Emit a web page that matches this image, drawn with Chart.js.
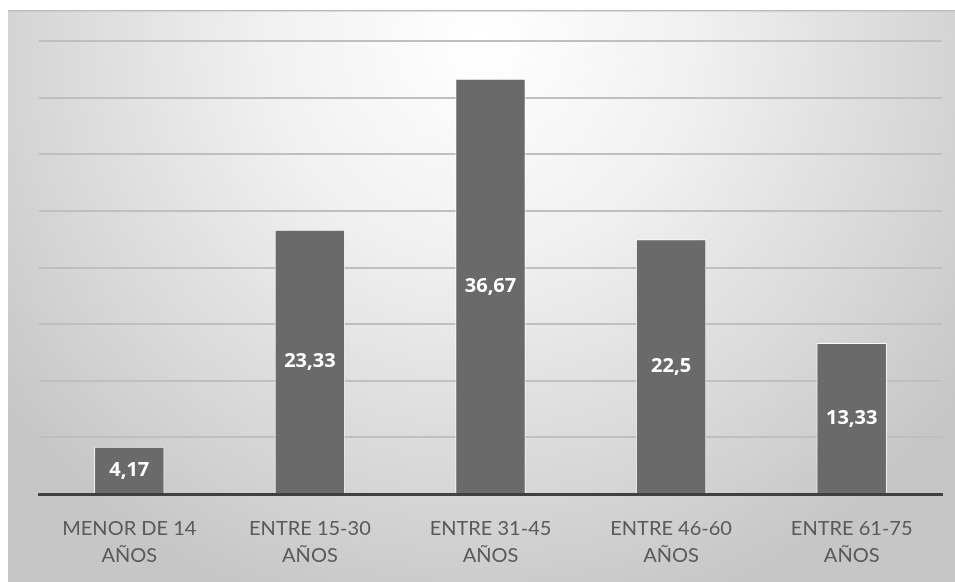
<!DOCTYPE html>
<html>
<head>
<meta charset="utf-8">
<script src="https://cdn.jsdelivr.net/npm/chart.js@4"></script>
<style>
  html, body { margin: 0; padding: 0; background: #ffffff; }
  #wrap { width: 955px; height: 582px; position: relative; }
</style>
</head>
<body>
<div id="wrap"><canvas id="c" width="955" height="582"></canvas></div>
<script>
const categories = [
  ['MENOR DE 14', 'AÑOS'],
  ['ENTRE 15-30', 'AÑOS'],
  ['ENTRE 31-45', 'AÑOS'],
  ['ENTRE 46-60', 'AÑOS'],
  ['ENTRE 61-75', 'AÑOS']
];
const values = [4.17, 23.33, 36.67, 22.5, 13.33];
const valueLabels = ['4,17', '23,33', '36,67', '22,5', '13,33'];
const yMin = 0, yMax = 40, yStep = 5;

const bgPlugin = {
  id: 'bg',
  beforeDraw(chart) {
    const ctx = chart.ctx;
    ctx.save();
    ctx.fillStyle = '#ffffff';
    ctx.fillRect(0, 0, chart.width, chart.height);
    const g = ctx.createRadialGradient(480, 40, 0, 480, 40, 600);
    g.addColorStop(0, '#ffffff');
    g.addColorStop(0.35, '#f1f1f1');
    g.addColorStop(1, '#c6c6c6');
    ctx.fillStyle = g;
    ctx.fillRect(8, 10, chart.width - 8, chart.height - 10);
    ctx.fillStyle = '#bdbdbd';
    ctx.fillRect(8, 10, chart.width - 8, 1.5);
    ctx.restore();
  }
};

const labelPlugin = {
  id: 'valLabels',
  afterDatasetsDraw(chart) {
    const ctx = chart.ctx;
    const meta = chart.getDatasetMeta(0);
    ctx.save();
    ctx.fillStyle = '#ffffff';
    ctx.font = 'bold 20px "Open Sans", sans-serif';
    ctx.textAlign = 'center';
    ctx.textBaseline = 'middle';
    meta.data.forEach((bar, i) => {
      const y = (bar.y + bar.base) / 2;
      ctx.fillText(valueLabels[i], bar.x, y);
    });
    ctx.restore();
  }
};

new Chart(document.getElementById('c'), {
  type: 'bar',
  data: {
    labels: categories,
    datasets: [{
      data: values,
      backgroundColor: '#6a6a6a',
      borderColor: 'rgba(255,255,255,0.85)',
      borderWidth: 1,
      categoryPercentage: 1,
      barPercentage: 0.39
    }]
  },
  options: {
    responsive: false,
    animation: false,
    layout: { padding: { left: 39, right: 13, top: 41, bottom: 0 } },
    plugins: { legend: { display: false }, tooltip: { enabled: false } },
    scales: {
      x: {
        grid: { display: false },
        border: { display: true, color: '#404040', width: 3 },
        ticks: {
          color: '#595959',
          font: { family: 'Lato, "Open Sans", sans-serif', size: 20, lineHeight: 1.35 },
          padding: 13,
          maxRotation: 0,
          autoSkip: false
        }
      },
      y: {
        min: yMin, max: yMax,
        ticks: { display: false, stepSize: yStep },
        border: { display: false },
        grid: {
          color: (c) => c.tick && c.tick.value === 0 ? 'rgba(0,0,0,0)' : '#bfbfbf',
          lineWidth: 2,
          drawTicks: false
        }
      }
    }
  },
  plugins: [bgPlugin, labelPlugin]
});
</script>
</body>
</html>
